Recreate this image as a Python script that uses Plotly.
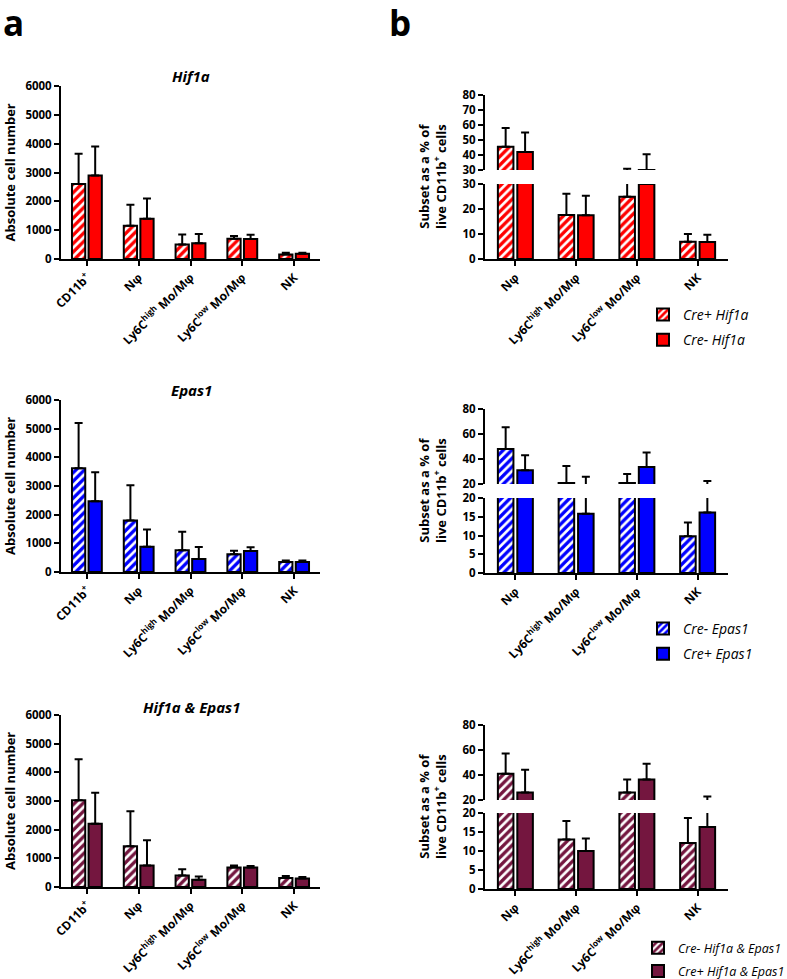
import plotly.graph_objects as go

W, H = 787, 979

CATS_A = ["CD11b<sup>+</sup>", "Nφ", "Ly6C<sup>high</sup> Mo/Mφ", "Ly6C<sup>low</sup> Mo/Mφ", "NK"]
CATS_B = ["Nφ", "Ly6C<sup>high</sup> Mo/Mφ", "Ly6C<sup>low</sup> Mo/Mφ", "NK"]

# panel a - absolute cell numbers (mean, upper SD)
hif_abs_hatch = [2600, 1150, 500, 700, 160]
hif_abs_hatch_sd = [1050, 730, 350, 100, 60]
hif_abs_solid = [2900, 1400, 545, 690, 185]
hif_abs_solid_sd = [1000, 700, 325, 155, 35]

epas_abs_hatch = [3620, 1800, 760, 620, 350]
epas_abs_hatch_sd = [1580, 1230, 640, 120, 50]
epas_abs_solid = [2470, 880, 455, 730, 350]
epas_abs_solid_sd = [1010, 600, 420, 130, 50]

both_abs_hatch = [3030, 1420, 400, 680, 310]
both_abs_hatch_sd = [1430, 1220, 220, 70, 70]
both_abs_solid = [2210, 750, 250, 680, 300]
both_abs_solid_sd = [1080, 880, 120, 50, 50]

# panel b - subset as % of live CD11b+ cells
hif_pct_hatch = [45.5, 17.6, 24.9, 6.9]
hif_pct_hatch_sd = [12.5, 8.5, 5.9, 3.1]
hif_pct_solid = [42.0, 17.5, 30.0, 6.8]
hif_pct_solid_sd = [13.0, 7.8, 10.5, 2.9]

epas_pct_hatch = [48.0, 20.8, 20.8, 9.8]
epas_pct_hatch_sd = [17.5, 13.7, 7.2, 3.7]
epas_pct_solid = [31.0, 15.8, 33.7, 16.1]
epas_pct_solid_sd = [12.0, 10.1, 11.5, 6.4]

both_pct_hatch = [41.0, 13.0, 26.1, 12.1]
both_pct_hatch_sd = [16.3, 4.9, 10.4, 6.6]
both_pct_solid = [26.1, 10.0, 36.5, 16.3]
both_pct_solid_sd = [18.2, 3.3, 12.6, 6.6]

RED = "#ff0000"
BLUE = "#0000ff"
MAROON = "#74163f"
FONT = "Open Sans"


def fx(px):
    return px / W


def fy(py):
    return 1 - py / H


fig = go.Figure()


def add_pair(xa, ya, cats, v1, e1, v2, e2, color, names, legend=None, show=False):
    """Hatched bar then solid bar, both with upward-only SD bars."""
    for vals, errs, hatched, name in ((v1, e1, True, names[0]), (v2, e2, False, names[1])):
        fig.add_trace(go.Bar(
            x=cats, y=vals, xaxis=xa, yaxis=ya, name=name,
            legend=legend or "legend", legendgroup=name, showlegend=show,
            marker=dict(
                color=color,
                line=dict(color="black", width=2),
                pattern=dict(shape="/" if hatched else "", fgcolor=color, fgopacity=1,
                             bgcolor="white", size=6, solidity=0.55),
            ),
            error_y=dict(type="data", array=errs, symmetric=False,
                         arrayminus=[0] * len(errs), color="black",
                         thickness=2, width=4),
            hoverinfo="skip",
        ))


def xax(x0, x1, anchor, visible=True, matches=None):
    d = dict(domain=[fx(x0), fx(x1)], anchor=anchor, type="category",
             showline=True, linewidth=2, linecolor="black",
             ticks="outside", ticklen=5, tickwidth=2, tickcolor="black",
             tickangle=-45, tickfont=dict(family=FONT, size=12, color="black", weight=700),
             showgrid=False, zeroline=False, visible=visible, automargin=False)
    if matches:
        d["matches"] = matches
    return d


def yax(top, bot, anchor, rng, dtick):
    return dict(domain=[fy(bot), fy(top)], anchor=anchor, range=rng, dtick=dtick,
                showline=True, linewidth=2, linecolor="black",
                ticks="outside", ticklen=5, tickwidth=2, tickcolor="black",
                tickfont=dict(family=FONT, size=11.5, color="black", weight=700),
                showgrid=False, zeroline=False, automargin=False)


# ---- panel a ----
add_pair("x", "y", CATS_A, hif_abs_hatch, hif_abs_hatch_sd, hif_abs_solid, hif_abs_solid_sd,
         RED, ("Cre+ Hif1a", "Cre- Hif1a"))
add_pair("x2", "y2", CATS_A, epas_abs_hatch, epas_abs_hatch_sd, epas_abs_solid, epas_abs_solid_sd,
         BLUE, ("Cre- Epas1", "Cre+ Epas1"))
add_pair("x3", "y3", CATS_A, both_abs_hatch, both_abs_hatch_sd, both_abs_solid, both_abs_solid_sd,
         MAROON, ("Cre- Hif1a & Epas1", "Cre+ Hif1a & Epas1"))

# ---- panel b (broken y axes: lower + upper segment) ----
names_b = [("Cre+ Hif1a", "Cre- Hif1a"),
           ("Cre- Epas1", "Cre+ Epas1"),
           ("Cre- Hif1a & Epas1", "Cre+ Hif1a & Epas1")]
b_sets = [
    (hif_pct_hatch, hif_pct_hatch_sd, hif_pct_solid, hif_pct_solid_sd, RED, "legend"),
    (epas_pct_hatch, epas_pct_hatch_sd, epas_pct_solid, epas_pct_solid_sd, BLUE, "legend2"),
    (both_pct_hatch, both_pct_hatch_sd, both_pct_solid, both_pct_solid_sd, MAROON, "legend3"),
]
for i, (h, hs, s, ss, col, leg) in enumerate(b_sets):
    lo, up = 4 + 2 * i, 5 + 2 * i
    add_pair(f"x{lo}", f"y{lo}", CATS_B, h, hs, s, ss, col, names_b[i], leg, True)
    add_pair(f"x{up}", f"y{up}", CATS_B, h, hs, s, ss, col, names_b[i], leg, False)

axes = dict(
    xaxis=xax(61, 320, "y"), yaxis=yax(86, 259, "x", [0, 6000], 1000),
    xaxis2=xax(61, 320, "y2"), yaxis2=yax(400, 572, "x2", [0, 6000], 1000),
    xaxis3=xax(61, 320, "y3"), yaxis3=yax(715, 887, "x3", [0, 6000], 1000),
    # b1
    xaxis4=xax(485, 728, "y4"), yaxis4=yax(184, 259, "x4", [0, 30], 10),
    xaxis5=xax(485, 728, "y5", visible=False, matches="x4"), yaxis5=yax(95, 170, "x5", [30, 80], 10),
    # b2
    xaxis6=xax(485, 728, "y6"), yaxis6=yax(498, 573, "x6", [0, 20], 5),
    xaxis7=xax(485, 728, "y7", visible=False, matches="x6"), yaxis7=yax(409, 484, "x7", [20, 80], 20),
    # b3
    xaxis8=xax(485, 728, "y8"), yaxis8=yax(813, 889, "x8", [0, 20], 5),
    xaxis9=xax(485, 728, "y9", visible=False, matches="x8"), yaxis9=yax(725, 800, "x9", [20, 80], 20),
)


def legend_at(x, y, size=14):
    return dict(x=fx(x), y=fy(y), xanchor="left", yanchor="top",
                font=dict(family=FONT, size=size, color="black", style="italic"),
                bgcolor="rgba(0,0,0,0)", tracegroupgap=4, itemwidth=30)


annotations = []
# panel letters
for txt, x in (("a", 13), ("b", 400)):
    annotations.append(dict(text=txt, x=fx(x), y=fy(23), xref="paper", yref="paper",
                            xanchor="center", yanchor="middle", showarrow=False,
                            font=dict(family=FONT, size=35, color="black", weight=700)))
# subplot titles
for txt, y in (("Hif1a", 76), ("Epas1", 390), ("Hif1a & Epas1", 707)):
    annotations.append(dict(text=f"<i>{txt}</i>", x=fx(191), y=fy(y), xref="paper", yref="paper",
                            xanchor="center", yanchor="middle", showarrow=False,
                            font=dict(family=FONT, size=15, color="black", weight=700)))
# y titles
for y in ((86 + 259) / 2, (400 + 572) / 2, (715 + 887) / 2):
    annotations.append(dict(text="Absolute cell number", x=fx(10), y=fy(y), xref="paper",
                            yref="paper", textangle=-90, xanchor="center", yanchor="middle",
                            showarrow=False,
                            font=dict(family=FONT, size=13, color="black", weight=700)))
for y in ((95 + 259) / 2, (409 + 573) / 2, (725 + 889) / 2):
    annotations.append(dict(text="Subset as a % of<br>live CD11b<sup>+</sup> cells", x=fx(432),
                            y=fy(y), xref="paper", yref="paper", textangle=-90,
                            xanchor="center", yanchor="middle", showarrow=False,
                            font=dict(family=FONT, size=13, color="black", weight=700)))

fig.update_layout(
    **axes,
    width=W, height=H,
    margin=dict(l=0, r=0, t=0, b=0, autoexpand=False),
    paper_bgcolor="white", plot_bgcolor="white",
    barmode="group", bargap=0.36, bargroupgap=0.2,
    legend=legend_at(643, 299),
    legend2=legend_at(643, 613),
    legend3=legend_at(638, 933, 12.5),
    annotations=annotations,
    font=dict(family=FONT, color="black"),
)

# drop the default 8px page margin so the figure sits at the window origin
fig.write_html("out.html", config={"displayModeBar": False},
               post_script="document.body.style.margin='0';")
